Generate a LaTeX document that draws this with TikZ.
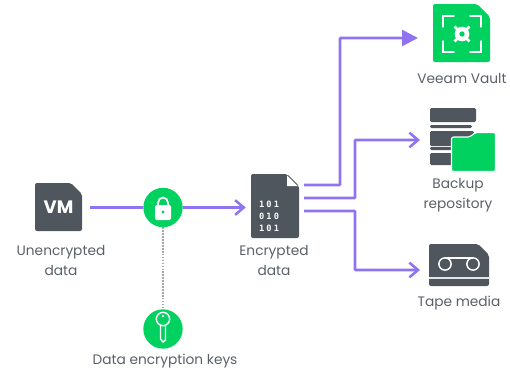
\documentclass[tikz,border=0pt]{standalone}
\usepackage{fontspec}
\setmainfont{Poppins}
\newfontfamily\bitfont[LetterSpace=25]{DejaVu Sans Mono}
\usepackage{tikz}
\definecolor{slategrey}{HTML}{50565E}
\definecolor{veeamgreen}{HTML}{00D15F}
\definecolor{flowpurple}{HTML}{8F73F0}
\definecolor{labelgrey}{HTML}{5A6068}
\usetikzlibrary{arrows.meta}
\tikzset{
	flow/.style={draw=flowpurple,line width=1.9pt,rounded corners=0.5pt},
	openhead/.style={-{Straight Barb[length=6.5pt,width=11pt,line width=1.9pt]}},
	solidhead/.style={-{Triangle[length=12pt,width=12pt]}},
	badge/.style={circle,fill=veeamgreen,minimum size=29.5pt,inner sep=0pt},
	iconbox/.style={inner sep=0pt},
	caption/.style={text=labelgrey,font=\fontsize{10.3}{15}\selectfont,align=center,inner sep=0pt},
	glyph/.style={draw=white,line width=1.1pt,line cap=round}
}
\newcommand{\notched}[6]{\fill[#6,rounded corners=1.5pt] (#1,#2) -- (#1,#4) -- (#3,#4) -- (#3,#2+#5) -- (#3-#5,#2) -- cycle;}
\begin{document}
\begin{tikzpicture}[x=0.75pt,y=-0.75pt]
	\useasboundingbox (0,0) rectangle (510,371);
	\notched{35}{183}{82}{231}{11}{slategrey}
	\node[iconbox,minimum width=47.25pt,minimum height=36pt] (vm) at (58.5,207.5) {\color{white}\fontsize{13.5}{13.5}\selectfont\bfseries VM};
	\notched{251}{174}{299}{238}{12}{slategrey}
	\fill[white] (287,175.5) -- (297.5,186) -- (287,186) -- cycle;
	\node[iconbox,minimum width=43.5pt,minimum height=48pt] (doc) at (275,207.5) {};
	\foreach \y/\b in {204/101,216/010,228/101}
		\node[text=white,font=\bitfont\bfseries\fontsize{6.5}{6.5}\selectfont,inner sep=0pt] at (269,\y) {\b};
	\notched{433}{4}{490}{62}{13}{veeamgreen}
	\node[iconbox,minimum width=42.75pt,minimum height=43.5pt] (vault) at (461.5,33) {};
	\foreach \sx/\sy in {1/1,-1/1,1/-1,-1/-1}
		\draw[glyph] (462+\sx*19,34+\sy*7) -- (462+\sx*19,34+\sy*18) -- (462+\sx*8,34+\sy*18);
	\foreach \a in {45,135,225,315}
		\draw[white,line width=2pt] (462,34) -- ++(\a:10.5);
	\fill[white] (462,34) circle (5.5pt);
	\fill[veeamgreen] (462,34) circle (2pt);
	\foreach \t/\h/\x in {108/14/476,125/3/472,131/15/474,147/3/464,153/12/476}
		\fill[slategrey,rounded corners=1pt] (430,\t) rectangle (\x,\t+\h);
	\fill[veeamgreen,draw=white,line width=0.8pt,rounded corners=1.5pt] (451.5,171.5) -- (451.5,137) -- (470,137) -- (475,132.5) -- (495.5,132.5) -- (495.5,171.5) -- cycle;
	\node[iconbox,minimum width=48pt,minimum height=47pt] (repo) at (462,140) {};
	\notched{429}{244}{489}{286}{11}{slategrey}
	\draw[draw=white!85!slategrey,line width=1.2pt] (429,278) -- (489,278);
	\draw[glyph,line cap=butt] (445,264) circle (4.6pt);
	\draw[glyph,line cap=butt] (473,264) circle (4.6pt);
	\draw[glyph,line cap=butt] (445,258) -- (473,258);
	\node[iconbox,minimum width=45pt,minimum height=31.5pt] (tape) at (459,265) {};
	\node[badge] (lock) at (163,207.5) {};
	\node[badge] (key) at (163,329) {};
	\fill[white,rounded corners=1pt] (155,205) rectangle (171,220);
	\draw[white,line width=1.3pt] (158,205) -- (158,203) arc (180:360:5 and 5.5) -- (168,205);
	\fill[veeamgreen] (163,212) circle (1.3pt);
	\draw[white,line width=1.1pt] (163,319) circle (5pt);
	\draw[white,line width=1.1pt] (160.5,326) -- (160.5,339) -- (163,342) -- (165.5,340) -- (165.5,326);
	\fill[white] (163,316) circle (1pt);
	\draw[flow] (vm) -- (lock);
	\draw[flow,openhead] (lock) -- (doc);
	\draw[draw=gray!70,line width=1.2pt,densely dotted] (lock) -- (key);
	\coordinate (outvault) at (304,185);
	\coordinate (outrepo) at (304,198);
	\coordinate (outtape) at (304,211);
	\coordinate (invault) at (418,38);
	\coordinate (inrepo) at (420,140);
	\coordinate (intape) at (420,270);
	\draw[flow,solidhead] (outvault) -| (340,38) -- (invault);
	\draw[flow,openhead] (outrepo) -| (355,140) -- (inrepo);
	\draw[flow,openhead] (outtape) -| (355,270) -- (intape);
	\node[caption] (vmlabel) at (61,260) {Unencrypted\\data};
	\node[caption] (doclabel) at (274,260) {Encrypted\\data};
	\node[caption] (keylabel) at (165,361) {Data encryption keys};
	\node[caption] (vaultlabel) at (462,78) {Veeam Vault};
	\node[caption] (repolabel) at (458,195) {Backup\\repository};
	\node[caption] (tapelabel) at (459,303) {Tape media};
\end{tikzpicture}
\end{document}
